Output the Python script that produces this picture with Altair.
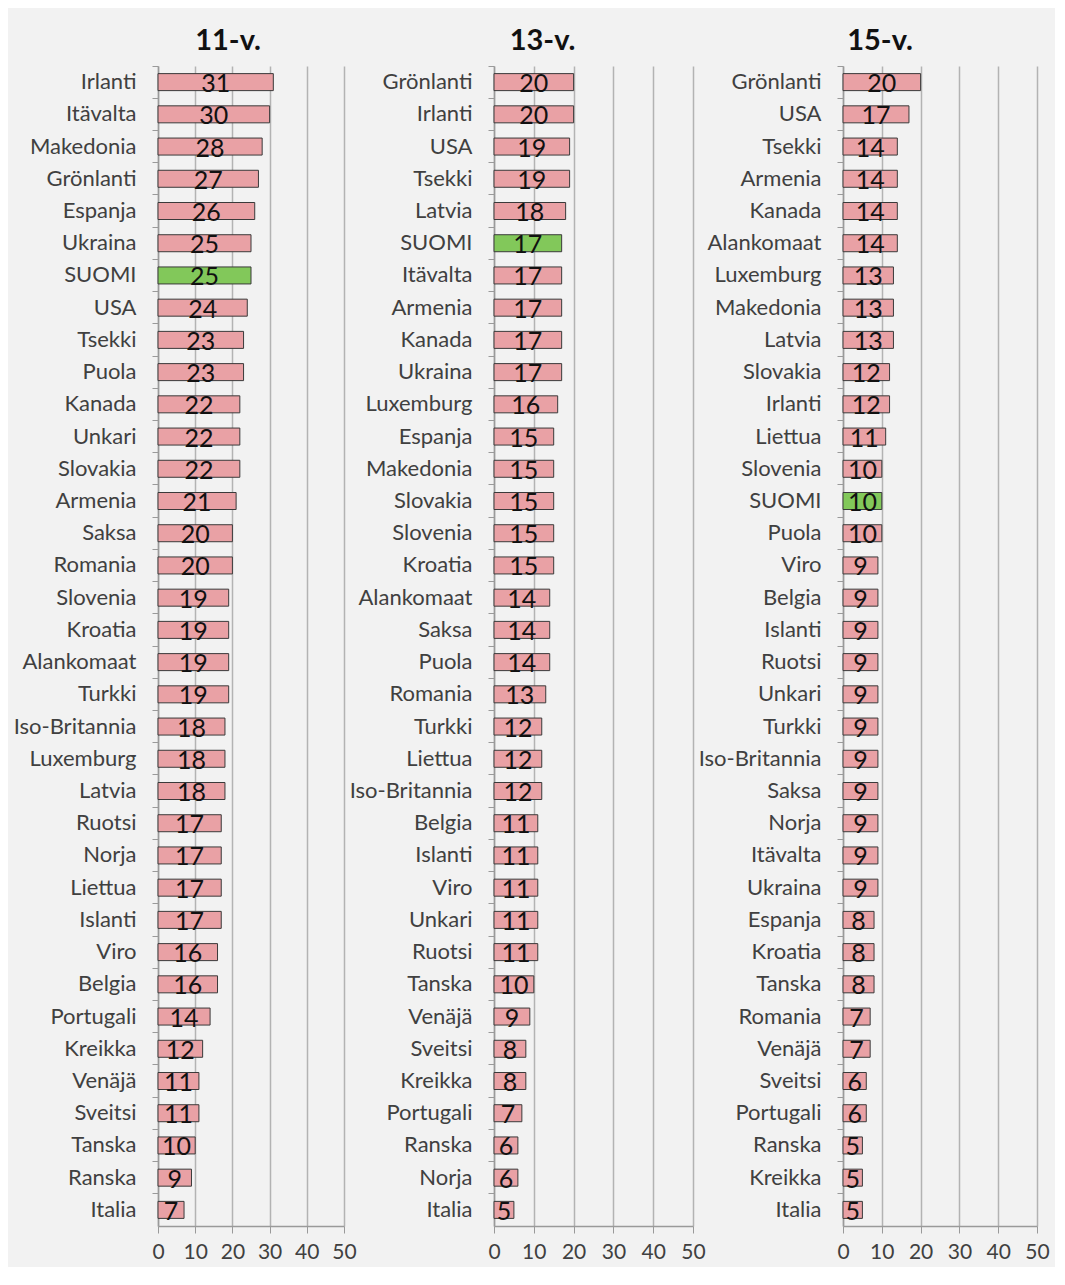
import altair as alt
import pandas as pd

FONT = "Lato"

countries_11 = ["Irlanti", "Itävalta", "Makedonia", "Grönlanti", "Espanja", "Ukraina", "SUOMI", "USA",
                "Tsekki", "Puola", "Kanada", "Unkari", "Slovakia", "Armenia", "Saksa", "Romania",
                "Slovenia", "Kroatia", "Alankomaat", "Turkki", "Iso-Britannia", "Luxemburg", "Latvia",
                "Ruotsi", "Norja", "Liettua", "Islanti", "Viro", "Belgia", "Portugali", "Kreikka",
                "Venäjä", "Sveitsi", "Tanska", "Ranska", "Italia"]
values_11 = [31, 30, 28, 27, 26, 25, 25, 24, 23, 23, 22, 22, 22, 21, 20, 20, 19, 19, 19, 19,
             18, 18, 18, 17, 17, 17, 17, 16, 16, 14, 12, 11, 11, 10, 9, 7]

countries_13 = ["Grönlanti", "Irlanti", "USA", "Tsekki", "Latvia", "SUOMI", "Itävalta", "Armenia",
                "Kanada", "Ukraina", "Luxemburg", "Espanja", "Makedonia", "Slovakia", "Slovenia",
                "Kroatia", "Alankomaat", "Saksa", "Puola", "Romania", "Turkki", "Liettua",
                "Iso-Britannia", "Belgia", "Islanti", "Viro", "Unkari", "Ruotsi", "Tanska", "Venäjä",
                "Sveitsi", "Kreikka", "Portugali", "Ranska", "Norja", "Italia"]
values_13 = [20, 20, 19, 19, 18, 17, 17, 17, 17, 17, 16, 15, 15, 15, 15, 15, 14, 14, 14, 13,
             12, 12, 12, 11, 11, 11, 11, 11, 10, 9, 8, 8, 7, 6, 6, 5]

countries_15 = ["Grönlanti", "USA", "Tsekki", "Armenia", "Kanada", "Alankomaat", "Luxemburg",
                "Makedonia", "Latvia", "Slovakia", "Irlanti", "Liettua", "Slovenia", "SUOMI", "Puola",
                "Viro", "Belgia", "Islanti", "Ruotsi", "Unkari", "Turkki", "Iso-Britannia", "Saksa",
                "Norja", "Itävalta", "Ukraina", "Espanja", "Kroatia", "Tanska", "Romania", "Venäjä",
                "Sveitsi", "Portugali", "Ranska", "Kreikka", "Italia"]
values_15 = [20, 17, 14, 14, 14, 14, 13, 13, 13, 12, 12, 11, 10, 10, 10, 9, 9, 9, 9, 9, 9, 9, 9,
             9, 9, 9, 8, 8, 8, 7, 7, 6, 6, 5, 5, 5]

ticks_x = [0, 10, 20, 30, 40, 50]
titles = ["11-v.", "13-v.", "15-v."]

H = 1160


def panel(title, countries, values, width, dx):
    df = pd.DataFrame({"country": countries, "value": values, "lbl": values})
    base = alt.Chart(df)
    xscale = alt.Scale(domain=[0, 50], nice=False)
    y = alt.Y(
        "country:N", sort=countries, title=None,
        scale=alt.Scale(paddingInner=0, paddingOuter=0),
        axis=alt.Axis(
            bandPosition=0, ticks=True, tickSize=6,
            labelPadding=16, labelFontSize=22, labelFont=FONT, labelColor="#404040",
            domainColor="#9a9a9a", tickColor="#9a9a9a", domainWidth=1.5,
            grid=False, labelLimit=220,
        ),
    )
    x = alt.X(
        "value:Q", title=None, scale=xscale,
        axis=alt.Axis(values=ticks_x, grid=True, gridColor="#b3b3b3", gridWidth=1.5,
                      tickSize=7, tickColor="#9a9a9a", domainColor="#9a9a9a", domainWidth=1.5,
                      labelFontSize=21, labelFont=FONT, labelColor="#404040", labelPadding=8,
                      labelOverlap=False, labelFlush=False),
    )
    bars = base.mark_bar(size=17, stroke="#3a3a3a", strokeWidth=1).encode(
        x=x, y=y,
        color=alt.condition(alt.datum.country == "SUOMI", alt.value("#82c85a"), alt.value("#e9a1a5")),
    )
    labels = base.transform_calculate(value="datum.lbl / 2").mark_text(
        fontSize=25, font=FONT, color="#111111", baseline="middle", dy=2
    ).encode(
        x=x, y=y,
        text=alt.Text("lbl:Q"),
    )
    return alt.layer(bars, labels).properties(
        width=width, height=H,
        title=alt.TitleParams(title, fontSize=29, fontWeight="bold", font=FONT, color="#111111",
                              anchor="middle", dx=dx, offset=10),
    )


p1 = panel(titles[0], countries_11, values_11, 186, -23)
p2 = panel(titles[1], countries_13, values_13, 199, -51)
p3 = panel(titles[2], countries_15, values_15, 194, -60)

chart = alt.hconcat(p1, p2, p3, spacing=150, bounds="flush").configure_view(stroke=None).properties(
    background="#f2f2f2",
    padding={"top": 18, "left": 5, "right": 5, "bottom": 5},
)

chart.save("out.html", embed_options={"renderer": "svg", "actions": False})
